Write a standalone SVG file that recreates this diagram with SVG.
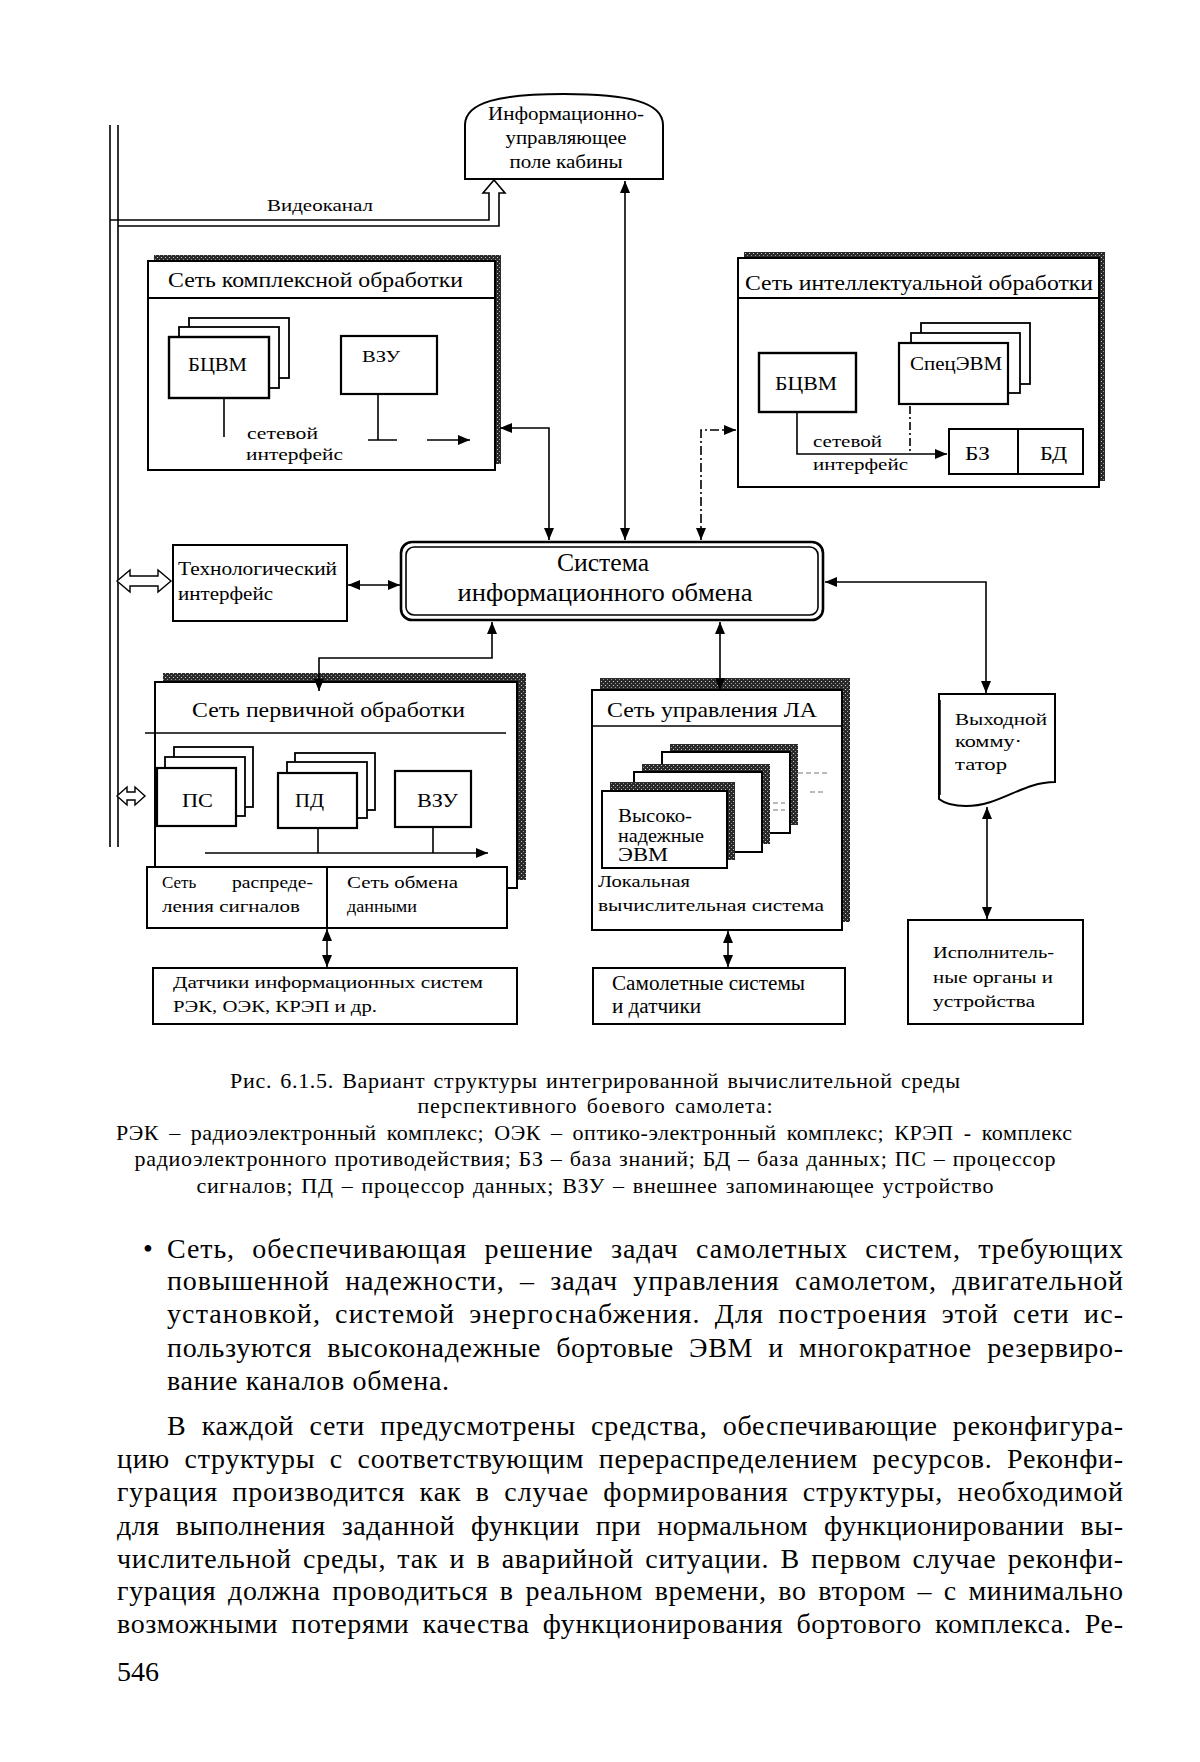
<svg xmlns="http://www.w3.org/2000/svg" width="1200" height="1762" viewBox="0 0 1200 1762">
<defs>
<style>
.bx{fill:#fff;stroke:#000;stroke-width:2}
.ln{fill:none;stroke:#000;stroke-width:1.6}
.hl{fill:#fff;stroke:#000;stroke-width:1.4}
.sh{fill:url(#stip);stroke:none}
.t{font-family:"Liberation Serif","Times New Roman",serif;fill:#000}
.s17{font-size:17px}.s19{font-size:19px}.s20{font-size:20px}.s21{font-size:21px}.s25{font-size:25px}
.body{font-size:28px}.cap{font-size:22px}
</style>
<pattern id="stip" width="4" height="4" patternUnits="userSpaceOnUse">
<rect width="4" height="4" fill="#2a2a2a"/><rect x="1" y="1" width="1" height="1" fill="#ccc"/><rect x="3" y="3" width="1" height="1" fill="#999"/>
</pattern>
<marker id="ah" viewBox="0 0 12 10" refX="12" refY="5" markerWidth="12" markerHeight="10" markerUnits="userSpaceOnUse" orient="auto-start-reverse"><path d="M0,0 L12,5 L0,10 z" fill="#000"/></marker>
</defs>
<rect width="1200" height="1762" fill="#fff"/>

<g id="bus">
<line class="ln" x1="110" y1="125" x2="110" y2="847"/>
<line class="ln" x1="118" y1="125" x2="118" y2="847"/>
<path class="ln" d="M110,220 H489 V193 H483 L494,180 L505,193 H499 V226 H118"/>
<text class="t s17" x="267" y="211" textLength="106" lengthAdjust="spacingAndGlyphs">Видеоканал</text>
<path class="hl" d="M117,581 L130,570 L130,576 L158,576 L158,570 L171,581 L158,592 L158,586 L130,586 L130,592 Z"/>
<path class="hl" d="M117,796 L127,787 L127,792 L135,792 L135,787 L145,796 L135,805 L135,800 L127,800 L127,805 Z"/>
</g>

<g id="dome">
<path class="bx" d="M465,179 V125 C465,102 500,94 564,94 C628,94 663,102 663,125 V179 Z"/>
<text class="t s19" x="566" y="120" text-anchor="middle" textLength="156" lengthAdjust="spacingAndGlyphs">Информационно-</text>
<text class="t s19" x="566" y="144" text-anchor="middle" textLength="121" lengthAdjust="spacingAndGlyphs">управляющее</text>
<text class="t s19" x="566" y="168" text-anchor="middle" textLength="113" lengthAdjust="spacingAndGlyphs">поле кабины</text>
</g>

<g id="complex">
<rect class="sh" x="154" y="255" width="347" height="209"/>
<rect class="bx" x="148" y="261" width="347" height="209"/>
<line class="ln" x1="148" y1="298" x2="495" y2="298" style="stroke-width:2"/>
<text class="t s21" x="168" y="287" textLength="295" lengthAdjust="spacingAndGlyphs">Сеть комплексной обработки</text>
<rect class="bx" x="189" y="318" width="100" height="60" style="stroke-width:1.8"/>
<rect class="bx" x="179" y="327" width="100" height="61" style="stroke-width:1.8"/>
<rect class="bx" x="169" y="337" width="100" height="61" style="stroke-width:2.4"/>
<text class="t s19" x="188" y="371" textLength="59" lengthAdjust="spacingAndGlyphs">БЦВМ</text>
<rect class="bx" x="341" y="336" width="96" height="58" style="stroke-width:2.2"/>
<text class="t s17" x="362" y="362" textLength="38" lengthAdjust="spacingAndGlyphs">ВЗУ</text>
<path class="ln" d="M224,398 V437 M378,394 V440 M368,440 H397"/>
<path class="ln" d="M427,440 H470" marker-end="url(#ah)"/>
<text class="t s17" x="247" y="439" textLength="71" lengthAdjust="spacingAndGlyphs">сетевой</text>
<text class="t s17" x="246" y="460" textLength="97" lengthAdjust="spacingAndGlyphs">интерфейс</text>
</g>

<g id="intellectual">
<rect class="sh" x="744" y="252" width="361" height="229"/>
<rect class="bx" x="738" y="258" width="361" height="229"/>
<line class="ln" x1="738" y1="298" x2="1099" y2="298" style="stroke-width:2"/>
<text class="t s21" x="745" y="290" textLength="348" lengthAdjust="spacingAndGlyphs">Сеть интеллектуальной обработки</text>
<rect class="bx" x="759" y="353" width="97" height="59" style="stroke-width:2.4"/>
<text class="t s19" x="775" y="390" textLength="62" lengthAdjust="spacingAndGlyphs">БЦВМ</text>
<rect class="bx" x="921" y="323" width="109" height="61" style="stroke-width:1.8"/>
<rect class="bx" x="911" y="333" width="109" height="60" style="stroke-width:1.8"/>
<rect class="bx" x="899" y="343" width="109" height="61" style="stroke-width:2.2"/>
<text class="t s19" x="910" y="370" textLength="92" lengthAdjust="spacingAndGlyphs">СпецЭВМ</text>
<rect class="bx" x="949" y="429" width="134" height="45"/>
<line class="ln" x1="1018" y1="429" x2="1018" y2="474" style="stroke-width:2"/>
<text class="t s19" x="965" y="460" textLength="25" lengthAdjust="spacingAndGlyphs">БЗ</text>
<text class="t s19" x="1040" y="460" textLength="27" lengthAdjust="spacingAndGlyphs">БД</text>
<path class="ln" d="M797,412 V454 H947" marker-end="url(#ah)"/>
<path class="ln" d="M910,406 V454" style="stroke-dasharray:8 3 2 3"/>
<text class="t s17" x="813" y="447" textLength="69" lengthAdjust="spacingAndGlyphs">сетевой</text>
<text class="t s17" x="813" y="470" textLength="95" lengthAdjust="spacingAndGlyphs">интерфейс</text>
</g>

<g id="tech">
<rect class="bx" x="173" y="545" width="174" height="76"/>
<text class="t s19" x="178" y="575" textLength="159" lengthAdjust="spacingAndGlyphs">Технологический</text>
<text class="t s19" x="178" y="600" textLength="95" lengthAdjust="spacingAndGlyphs">интерфейс</text>
</g>

<g id="exchange">
<rect x="401" y="542" width="422" height="78" rx="11" fill="#fff" stroke="#000" stroke-width="2.6"/>
<rect x="406" y="547" width="412" height="68" rx="8" fill="none" stroke="#000" stroke-width="1.6"/>
<text class="t s25" x="603" y="571" text-anchor="middle" textLength="92" lengthAdjust="spacingAndGlyphs">Система</text>
<text class="t s25" x="605" y="601" text-anchor="middle" textLength="295" lengthAdjust="spacingAndGlyphs">информационного обмена</text>
</g>

<g id="primary">
<rect class="sh" x="163" y="673" width="363" height="207"/>
<rect class="bx" x="155" y="682" width="362" height="206"/>
<line class="ln" x1="145" y1="733" x2="506" y2="733"/>
<text class="t s21" x="192" y="717" textLength="273" lengthAdjust="spacingAndGlyphs">Сеть первичной обработки</text>
<rect class="bx" x="174" y="747" width="79" height="60" style="stroke-width:1.8"/>
<rect class="bx" x="165" y="757" width="80" height="59" style="stroke-width:1.8"/>
<rect class="bx" x="157" y="768" width="79" height="58" style="stroke-width:2.2"/>
<text class="t s19" x="182" y="807" textLength="31" lengthAdjust="spacingAndGlyphs">ПС</text>
<rect class="bx" x="295" y="753" width="80" height="57" style="stroke-width:1.8"/>
<rect class="bx" x="287" y="762" width="80" height="56" style="stroke-width:1.8"/>
<rect class="bx" x="278" y="773" width="79" height="55" style="stroke-width:2.2"/>
<text class="t s19" x="295" y="807" textLength="29" lengthAdjust="spacingAndGlyphs">ПД</text>
<rect class="bx" x="395" y="771" width="76" height="56" style="stroke-width:2.2"/>
<text class="t s19" x="417" y="807" textLength="41" lengthAdjust="spacingAndGlyphs">ВЗУ</text>
<path class="ln" d="M318,828 V853 M433,827 V853"/>
<path class="ln" d="M205,853 H488" marker-end="url(#ah)"/>
<rect class="bx" x="147" y="867" width="180" height="61"/>
<rect class="bx" x="327" y="867" width="180" height="61"/>
<text class="t s17" x="162" y="888">Сеть</text>
<text class="t s17" x="313" y="888" text-anchor="end" textLength="81" lengthAdjust="spacingAndGlyphs">распреде-</text>
<text class="t s17" x="162" y="912" textLength="138" lengthAdjust="spacingAndGlyphs">ления сигналов</text>
<text class="t s17" x="347" y="888" textLength="111" lengthAdjust="spacingAndGlyphs">Сеть обмена</text>
<text class="t s17" x="347" y="912" textLength="70" lengthAdjust="spacingAndGlyphs">данными</text>
</g>

<g id="sensors">
<rect class="bx" x="153" y="968" width="364" height="56"/>
<text class="t s17" x="173" y="988" textLength="310" lengthAdjust="spacingAndGlyphs">Датчики информационных систем</text>
<text class="t s17" x="173" y="1012" textLength="204" lengthAdjust="spacingAndGlyphs">РЭК, ОЭК, КРЭП и др.</text>
</g>

<g id="control">
<rect class="sh" x="600" y="678" width="250" height="244"/>
<rect class="bx" x="592" y="690" width="250" height="240"/>
<line class="ln" x1="592" y1="726" x2="842" y2="726"/>
<text class="t s21" x="607" y="717" textLength="210" lengthAdjust="spacingAndGlyphs">Сеть управления ЛА</text>
<rect class="sh" x="670" y="744" width="128" height="81"/>
<rect class="bx" x="662" y="752" width="128" height="81"/>
<rect class="sh" x="642" y="764" width="128" height="80"/>
<rect class="bx" x="634" y="772" width="128" height="80"/>
<rect class="sh" x="610" y="782" width="125" height="78"/>
<rect class="bx" x="602" y="791" width="125" height="77"/>
<g stroke="#777" stroke-width="1.2" stroke-dasharray="5 3">
<line x1="798" y1="773" x2="830" y2="773"/><line x1="810" y1="792" x2="826" y2="792"/>
<line x1="773" y1="803" x2="785" y2="803"/><line x1="773" y1="810" x2="785" y2="810"/>
</g>
<text class="t s19" x="618" y="822" textLength="74" lengthAdjust="spacingAndGlyphs">Высоко-</text>
<text class="t s19" x="618" y="842" textLength="86" lengthAdjust="spacingAndGlyphs">надежные</text>
<text class="t s19" x="618" y="861" textLength="50" lengthAdjust="spacingAndGlyphs">ЭВМ</text>
<text class="t s17" x="598" y="887" textLength="92" lengthAdjust="spacingAndGlyphs">Локальная</text>
<text class="t s17" x="598" y="911" textLength="226" lengthAdjust="spacingAndGlyphs">вычислительная система</text>
</g>

<g id="aircraft">
<rect class="bx" x="593" y="968" width="252" height="56"/>
<text class="t s20" x="612" y="990" textLength="193" lengthAdjust="spacingAndGlyphs">Самолетные системы</text>
<text class="t s20" x="612" y="1013" textLength="89" lengthAdjust="spacingAndGlyphs">и датчики</text>
</g>

<g id="switch">
<path class="bx" d="M939,694 H1055 V782 C1022,782 1000,806 966,806 C952,806 944,803 939,799 Z"/>
<line x1="940" y1="700" x2="940" y2="795" stroke="#000" stroke-width="1.5"/>
<text class="t s17" x="955" y="725" textLength="92" lengthAdjust="spacingAndGlyphs">Выходной</text>
<text class="t s17" x="955" y="747" textLength="67" lengthAdjust="spacingAndGlyphs">комму·</text>
<text class="t s17" x="955" y="770" textLength="52" lengthAdjust="spacingAndGlyphs">татор</text>
</g>

<g id="actuators">
<rect class="bx" x="908" y="920" width="175" height="104"/>
<text class="t s17" x="933" y="958" textLength="121" lengthAdjust="spacingAndGlyphs">Исполнитель-</text>
<text class="t s17" x="933" y="983" textLength="120" lengthAdjust="spacingAndGlyphs">ные органы и</text>
<text class="t s17" x="933" y="1007" textLength="102" lengthAdjust="spacingAndGlyphs">устройства</text>
</g>

<g id="connectors">
<path class="ln" d="M500,428 H549 V540" marker-start="url(#ah)" marker-end="url(#ah)"/>
<path class="ln" d="M625,181 V540" marker-start="url(#ah)" marker-end="url(#ah)"/>
<path class="ln" d="M701,540 V430 H736" marker-start="url(#ah)" marker-end="url(#ah)" style="stroke-dasharray:9 3 2 3"/>
<path class="ln" d="M348,585 H400" marker-start="url(#ah)" marker-end="url(#ah)"/>
<path class="ln" d="M492,622 V658 H319 V691" marker-start="url(#ah)" marker-end="url(#ah)"/>
<path class="ln" d="M720,622 V690" marker-start="url(#ah)" marker-end="url(#ah)"/>
<path class="ln" d="M825,582 H986 V693" marker-start="url(#ah)" marker-end="url(#ah)"/>
<path class="ln" d="M327,929 V967" marker-start="url(#ah)" marker-end="url(#ah)"/>
<path class="ln" d="M728,931 V967" marker-start="url(#ah)" marker-end="url(#ah)"/>
<path class="ln" d="M987,807 V919" marker-start="url(#ah)" marker-end="url(#ah)"/>
</g>

<g id="caption">
<text class="t cap" x="595" y="1088" text-anchor="middle" word-spacing="2" textLength="730" lengthAdjust="spacing">Рис. 6.1.5. Вариант структуры интегрированной вычислительной среды</text>
<text class="t cap" x="595" y="1113" text-anchor="middle" word-spacing="3" textLength="355" lengthAdjust="spacing">перспективного боевого самолета:</text>
<text class="t cap" x="594" y="1140" text-anchor="middle" word-spacing="4" textLength="956" lengthAdjust="spacing">РЭК – радиоэлектронный комплекс; ОЭК – оптико-электронный комплекс; КРЭП - комплекс</text>
<text class="t cap" x="595" y="1166" text-anchor="middle" word-spacing="1" textLength="921" lengthAdjust="spacing">радиоэлектронного противодействия; БЗ – база знаний; БД – база данных; ПС – процессор</text>
<text class="t cap" x="595" y="1193" text-anchor="middle" word-spacing="2" textLength="797" lengthAdjust="spacing">сигналов; ПД – процессор данных; ВЗУ – внешнее запоминающее устройство</text>
</g>

<g id="bodytext">
<text class="t body" x="143" y="1258">•</text>
<text class="t body" x="167" y="1258" word-spacing="9.5" textLength="956" lengthAdjust="spacing">Сеть, обеспечивающая решение задач самолетных систем, требующих</text>
<text class="t body" x="167" y="1290" word-spacing="7.5" textLength="956" lengthAdjust="spacing">повышенной надежности, – задач управления самолетом, двигательной</text>
<text class="t body" x="167" y="1323" word-spacing="6" textLength="956" lengthAdjust="spacing">установкой, системой энергоснабжения. Для построения этой сети ис-</text>
<text class="t body" x="167" y="1357" word-spacing="7.5" textLength="956" lengthAdjust="spacing">пользуются высоконадежные бортовые ЭВМ и многократное резервиро-</text>
<text class="t body" x="167" y="1390" textLength="282" lengthAdjust="spacing">вание каналов обмена.</text>
<text class="t body" x="167" y="1435" word-spacing="7.5" textLength="956" lengthAdjust="spacing">В каждой сети предусмотрены средства, обеспечивающие реконфигура-</text>
<text class="t body" x="117" y="1468" word-spacing="7" textLength="1006" lengthAdjust="spacing">цию структуры с соответствующим перераспределением ресурсов. Реконфи-</text>
<text class="t body" x="117" y="1501" word-spacing="6.5" textLength="1006" lengthAdjust="spacing">гурация производится как в случае формирования структуры, необходимой</text>
<text class="t body" x="117" y="1535" word-spacing="8.5" textLength="1006" lengthAdjust="spacing">для выполнения заданной функции при нормальном функционировании вы-</text>
<text class="t body" x="117" y="1568" word-spacing="3.5" textLength="1006" lengthAdjust="spacing">числительной среды, так и в аварийной ситуации. В первом случае реконфи-</text>
<text class="t body" x="117" y="1600" word-spacing="4" textLength="1006" lengthAdjust="spacing">гурация должна проводиться в реальном времени, во втором – с минимально</text>
<text class="t body" x="117" y="1633" word-spacing="5.5" textLength="1006" lengthAdjust="spacing">возможными потерями качества функционирования бортового комплекса. Ре-</text>
<text class="t body" x="117" y="1681">546</text>
</g>
</svg>
